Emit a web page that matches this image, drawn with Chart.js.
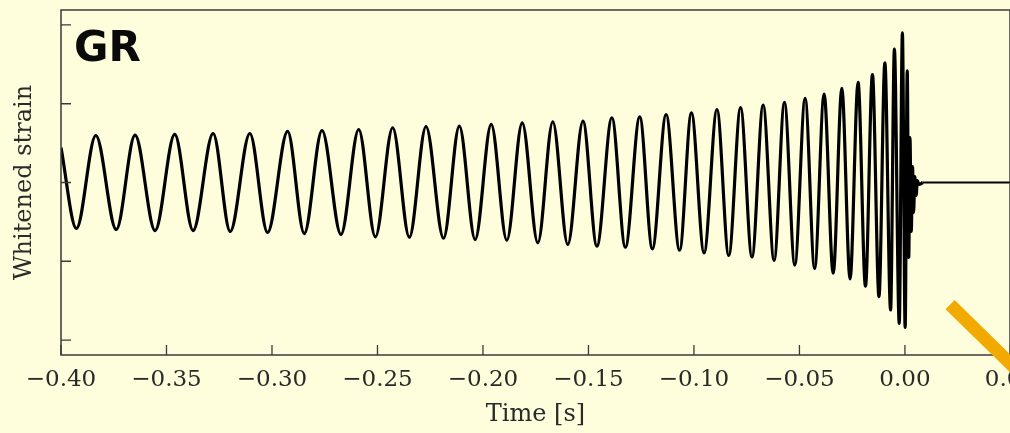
<!DOCTYPE html>
<html>
<head>
<meta charset="utf-8">
<script src="https://cdn.jsdelivr.net/npm/chart.js@4.4.1/dist/chart.umd.min.js"></script>
<style>
  html, body { margin: 0; padding: 0; overflow: hidden; background: #fefddc; }
  canvas { display: block; }
</style>
</head>
<body>
<canvas id="chart" width="1010" height="433"></canvas>
<script>
// peaks and troughs of the whitened strain
const timeS = [
  -0.4000, -0.3927, -0.3835, -0.3738, -0.3649, -0.3554, -0.3461, -0.3374, -0.3279, -0.3198,
  -0.3105, -0.3021, -0.2926, -0.2847, -0.2763, -0.2673, -0.2589, -0.2510, -0.2428, -0.2349,
  -0.2270, -0.2187, -0.2112, -0.2037, -0.1961, -0.1887, -0.1814, -0.1740, -0.1669, -0.1598,
  -0.1526, -0.1460, -0.1389, -0.1325, -0.1257, -0.1197, -0.1132, -0.1068, -0.1012, -0.0952,
  -0.0891, -0.0835, -0.0779, -0.0725, -0.0672, -0.0620, -0.0571, -0.0522, -0.0473, -0.0428,
  -0.0383, -0.0340, -0.0299, -0.0260, -0.0222, -0.0187, -0.0154, -0.0123, -0.0095, -0.0068,
  -0.0050, -0.0027, -0.0012, 0.0001, 0.0011, 0.0018, 0.0024, 0.0030, 0.0036, 0.0041,
  0.0047, 0.0053, 0.0059, 0.0066, 0.0085
];
const strain = [
  0.444, -0.584, 0.597, -0.597, 0.601, -0.610, 0.610, -0.610, 0.622, -0.622,
  0.622, -0.635, 0.648, -0.648, 0.660, -0.660, 0.673, -0.690, 0.695, -0.695,
  0.711, -0.707, 0.715, -0.724, 0.737, -0.733, 0.758, -0.766, 0.771, -0.787,
  0.778, -0.809, 0.822, -0.822, 0.834, -0.842, 0.863, -0.860, 0.885, -0.893,
  0.927, -0.927, 0.952, -0.946, 0.984, -0.990, 1.016, -1.048, 1.067, -1.092,
  1.121, -1.152, 1.196, -1.225, 1.270, -1.317, 1.371, -1.448, 1.520, -1.619,
  1.693, -1.790, 1.901, -1.841, 1.416, -0.952, 0.571, -0.622, 0.203, -0.381,
  0.076, -0.165, 0.025, -0.025, 0
];
// flat signal after the merger
const tailTime = [0.0085, 0.02, 0.035, 0.0498];
const tailStrain = [0, 0, 0, 0];

const xTickValues = [-0.40, -0.35, -0.30, -0.25, -0.20, -0.15, -0.10, -0.05, 0.00, 0.05];
const yTickValues = [-2, -1, 0, 1, 2];

// orange bar that cuts in at the lower right (data coords)
const barFrom = [0.0214, -1.55];
const barTo = [0.066, -2.72];

function fmtTick(v) {
  const s = Math.abs(v).toFixed(2);
  return v < -1e-9 ? '\u2212' + s : s;
}

const serif = 'DejaVu Serif';

const framePlugin = {
  id: 'frame',
  afterDraw(chart) {
    const ctx = chart.ctx;
    const a = chart.chartArea;
    const xs = chart.scales.x, ys = chart.scales.y;
    ctx.save();
    ctx.strokeStyle = '#3a3a3a';
    ctx.lineWidth = 1.5;
    ctx.strokeRect(a.left, a.top, a.right - a.left, a.bottom - a.top);
    ctx.lineWidth = 1.3;
    ctx.beginPath();
    xTickValues.forEach(v => {
      const px = xs.getPixelForValue(v);
      ctx.moveTo(px, a.bottom);
      ctx.lineTo(px, a.bottom - 10);
    });
    yTickValues.forEach(v => {
      const py = ys.getPixelForValue(v);
      ctx.moveTo(a.left, py);
      ctx.lineTo(a.left + 10, py);
    });
    ctx.stroke();

    ctx.fillStyle = '#0a0a0a';
    ctx.font = 'bold 42px "DejaVu Sans"';
    ctx.textBaseline = 'alphabetic';
    ctx.fillText('GR', a.left + 13, a.top + 51);

    ctx.strokeStyle = '#f2a900';
    ctx.lineWidth = 13;
    ctx.lineCap = 'butt';
    ctx.beginPath();
    ctx.moveTo(xs.getPixelForValue(barFrom[0]), ys.getPixelForValue(barFrom[1]));
    ctx.lineTo(xs.getPixelForValue(barTo[0]), ys.getPixelForValue(barTo[1]));
    ctx.stroke();
    ctx.restore();
  }
};

new Chart(document.getElementById('chart'), {
  type: 'line',
  data: {
    datasets: [
      {
        data: timeS.map((t, i) => ({ x: t, y: strain[i] })),
        borderColor: '#000',
        borderWidth: 3.2,
        pointRadius: 0,
        cubicInterpolationMode: 'monotone'
      },
      {
        data: tailTime.map((t, i) => ({ x: t, y: tailStrain[i] })),
        borderColor: '#000',
        borderWidth: 2,
        pointRadius: 0
      }
    ]
  },
  options: {
    responsive: false,
    animation: false,
    layout: { padding: { top: 10, left: 0, right: 0, bottom: 0 } },
    plugins: { legend: { display: false }, tooltip: { enabled: false } },
    scales: {
      x: {
        type: 'linear',
        min: -0.4,
        max: 0.0498,
        afterBuildTicks: s => { s.ticks = xTickValues.map(v => ({ value: v })); },
        afterFit: s => { s.height = 78; s.paddingLeft = 0; s.paddingRight = 0; },
        grid: { display: false, drawTicks: false },
        border: { display: false },
        ticks: {
          autoSkip: false,
          maxRotation: 0,
          padding: 11,
          color: '#2a2a2a',
          font: { family: serif, size: 23 },
          callback: v => fmtTick(v)
        },
        title: {
          display: true,
          text: 'Time [s]',
          color: '#2a2a2a',
          font: { family: serif, size: 24 },
          padding: { top: 0, bottom: 4 }
        }
      },
      y: {
        min: -2.19,
        max: 2.19,
        afterBuildTicks: s => { s.ticks = yTickValues.map(v => ({ value: v })); },
        afterFit: s => { s.width = 61; },
        grid: { display: false, drawTicks: false },
        border: { display: false },
        ticks: { display: false },
        title: {
          display: true,
          text: 'Whitened strain',
          color: '#2a2a2a',
          font: { family: serif, size: 24 },
          padding: { top: 10, bottom: 0 }
        }
      }
    }
  },
  plugins: [framePlugin]
});
</script>
</body>
</html>
